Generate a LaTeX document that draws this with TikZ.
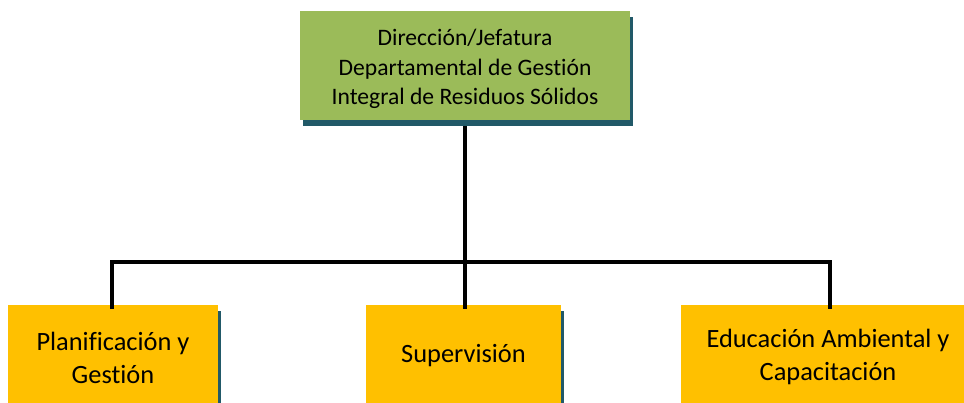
\documentclass[tikz,border=0pt]{standalone}
\usepackage{fontspec}
\setmainfont{Carlito}[Ligatures={NoCommon}]
\usetikzlibrary{shadows}
\definecolor{boxgreen}{HTML}{9BBB59}
\definecolor{boxgold}{HTML}{FFC000}
\definecolor{shadowteal}{HTML}{215968}
\tikzset{
  orgbox/.style={rectangle, draw=none, inner sep=0pt,
    general shadow={fill=shadowteal, shadow xshift=3pt, shadow yshift=-6pt}},
  headbox/.style={orgbox, fill=boxgreen},
  unitbox/.style={orgbox, fill=boxgold},
  headtext/.style={inner sep=0pt, align=center, font=\fontsize{23.6}{29.3}\selectfont},
  unittext/.style={inner sep=0pt, align=center, font=\fontsize{26.4}{33}\selectfont},
  link/.style={line width=3.6pt, black}
}
\begin{document}
\begin{tikzpicture}[x=1pt,y=-1pt]
\useasboundingbox (0,0) rectangle (964,402);
\clip (0,0) rectangle (964,402);
\coordinate (hub) at (465,262);
% boxes
\node[headbox, minimum width=330pt, minimum height=109pt] (head) at (465,65.5) {};
\node[unitbox, minimum width=210pt, minimum height=110pt, anchor=north] (plan) at (113,305) {};
\node[unitbox, minimum width=195pt, minimum height=110pt, anchor=north] (sup) at (463.5,305) {};
\node[unitbox, minimum width=294pt, minimum height=110pt, anchor=north] (edu) at (828,305) {};
% texts
\node[unittext] (planlbl) at (113,358) {Planificación y\\Gestión};
\node[unittext] (suplbl) at (463.5,356) {Supervisión};
\node[unittext] (edulbl) at (828,357) {Educación Ambiental y\\Capacitación};
\node[headtext] (headlbl) at (465,69) {Dirección/Jefatura\\Departamental de Gestión\\Integral de Residuos Sólidos};
% connectors
\draw[link] ([yshift=-6pt]head.south) -- (hub) -- ([yshift=-4pt]hub |- sup.north);
\draw[link] ([xshift=-1pt,yshift=-4pt]plan.north) |- (hub) -| ([xshift=2pt,yshift=-4pt]edu.north);
\end{tikzpicture}
\end{document}
